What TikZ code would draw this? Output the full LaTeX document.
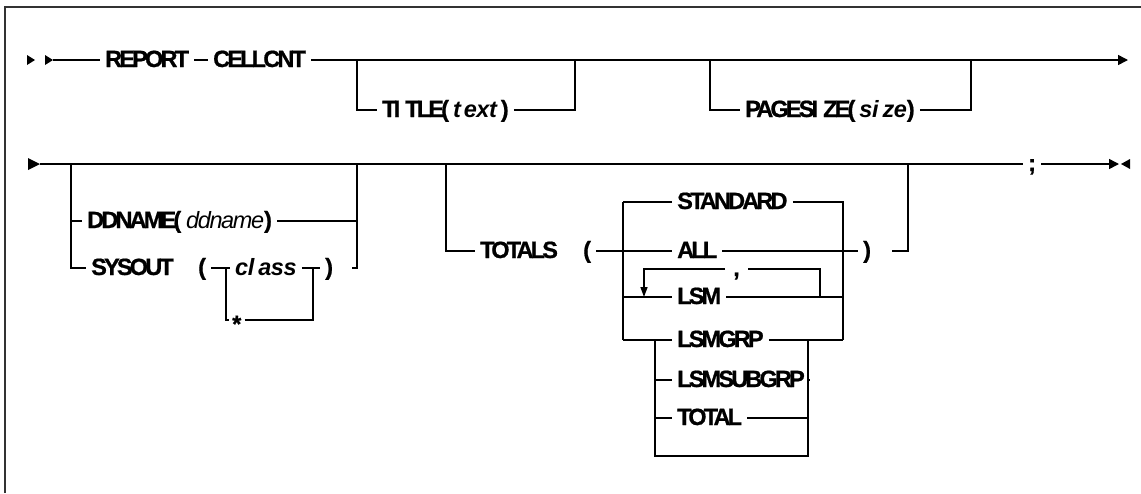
\documentclass[tikz,border=0pt]{standalone}
\usepackage{fontspec}
\setmainfont{Liberation Sans}[LetterSpace=-12, BoldFeatures={FakeBold=0.8}]
\newfontfamily\rrit{Liberation Sans}[LetterSpace=-2]
\newfontfamily\rrdd{Liberation Sans}[LetterSpace=-6]
\usetikzlibrary{arrows.meta}
\tikzset{
  rr/.style={line width=1.5pt, line cap=butt, line join=miter},
  lbl/.style={anchor=west, inner xsep=5pt, inner ysep=0pt, text height=17pt, text depth=3pt,
              font=\fontsize{23.5}{28}\selectfont\bfseries},
  endtip/.style={-{Triangle[length=10pt,width=10pt]}},
  looptip/.style={-{Triangle[length=10pt,width=7pt]}},
  frame/.style={line width=2pt, black!80}
}
\begin{document}
\begin{tikzpicture}[x=1pt,y=-1pt]
\useasboundingbox (0,0) rectangle (1141,493);
% frame
\draw[frame] (5,493) -- (5,7) -- (1141,7);

% ---------- row 1 ----------
\fill (27,55) -- (35,60) -- (27,65) -- cycle;
\fill (45,55) -- (53,60) -- (45,65) -- cycle;
\coordinate (s1) at (53,60);
\node[lbl] (rep) at (100,60) {REPORT};
\node[lbl] (cell) at (208,60) {CELLCNT};
\coordinate (e1) at (1128,60);
\draw[rr] (s1) -- (rep.west);
\draw[rr] (rep.east) -- (cell.west);
\draw[rr,endtip] (cell.east) -- (e1);

% TITLE
\coordinate (t1) at (357,60);
\coordinate (t2) at (357,110);
\coordinate (t3) at (575,110);
\coordinate (t4) at (575,60);
\node[lbl] (title) at (377,110) {TI\kern5pt TLE(\kern4pt{\rrit\itshape t\kern3pt ext}\kern4pt)};
\draw[rr] (t1) -- (t2) -- (title.west);
\draw[rr] (title.east) -- (t3) -- (t4);

% PAGESIZE
\coordinate (u1) at (710,60);
\coordinate (u2) at (710,110);
\coordinate (u3) at (971,110);
\coordinate (u4) at (971,60);
\node[lbl] (page) at (740,110) {PAGESI\kern5pt ZE(\kern4pt{\rrit\itshape si\kern4pt ze})};
\draw[rr] (u1) -- (u2) -- (page.west);
\draw[rr] (page.east) -- (u3) -- (u4);

% ---------- row 2 ----------
\fill (28,158) -- (40,164) -- (28,170) -- cycle;
\coordinate (s2) at (40,164);
\node[lbl] (semi) at (1023,164) {;};
\coordinate (e2) at (1119,164);
\draw[rr] (s2) -- (semi.west);
\draw[rr,endtip] (semi.east) -- (e2);
\fill (1121,164) -- (1130,159) -- (1130,169) -- cycle;

% DDNAME / SYSOUT group
\coordinate (a1) at (71,164);
\coordinate (a2) at (71,221);
\coordinate (a3) at (71,268);
\coordinate (b1) at (357,164);
\coordinate (b2) at (357,221);
\coordinate (b3) at (357,268);
\coordinate (b4) at (352,268);
\node[lbl] (dd) at (82,221) {DDNAME(\kern5pt{\rrdd\mdseries\itshape ddname})};
\node[lbl] (sys) at (86,268) {SYSOUT};
\node[lbl] (lp1) at (193,268) {(};
\node[lbl] (cls) at (230,268) {{\rrit\itshape cl\kern4pt ass}};
\node[lbl] (rp1) at (320,268) {)};
\node[lbl,inner xsep=3pt] (star) at (229,320) {\raisebox{-5pt}{*}};
\coordinate (c1) at (226,268);
\coordinate (c2) at (226,320);
\coordinate (d1) at (313,268);
\coordinate (d2) at (313,320);
\draw[rr] (a1) -- (a3) -- (sys.west);
\draw[rr] (a2) -- (dd.west);
\draw[rr] (dd.east) -- (b2);
\draw[rr] (b1) -- (b3) -- (b4);
\draw[rr] (lp1.east) -- (cls.west);
\draw[rr] (cls.east) -- (rp1.west);
\draw[rr] (c1) -- (c2) -- (star.west);
\draw[rr] (star.east) -- (d2) -- (d1);

% TOTALS group
\coordinate (g1) at (446,164);
\coordinate (g2) at (446,251);
\node[lbl] (tot) at (475,251) {TOTALS};
\node[lbl] (lp2) at (578,251) {(};
\coordinate (h1) at (623,202);
\coordinate (h3) at (623,297);
\coordinate (h4) at (623,340);
\node[lbl] (std) at (672,202) {STANDARD};
\node[lbl] (all) at (672,251) {ALL};
\node[lbl] (lsm) at (672,297) {LSM};
\node[lbl] (grp) at (672,340) {LSMGRP};
\coordinate (k1) at (843,202);
\coordinate (k3) at (843,297);
\coordinate (k4) at (843,340);
\node[lbl] (rp2) at (858,251) {)};
\coordinate (m1) at (892,251);
\coordinate (m2) at (908,251);
\coordinate (m3) at (908,164);
\draw[rr] (g1) -- (g2) -- (tot.west);
\draw[rr] (lp2.east) -- (all.west);
\draw[rr] (h1) -- (h4);
\draw[rr] (h1) -- (std.west);
\draw[rr] (std.east) -- (k1) -- (k4);
\draw[rr] (all.east) -- (rp2.west);
\draw[rr] (h3) -- (lsm.west);
\draw[rr] (lsm.east) -- (k3);
\draw[rr] (h4) -- (grp.west);
\draw[rr] (grp.east) -- (k4);
\draw[rr] (m1) -- (m2) -- (m3);

% repeat loop over LSM
\coordinate (r1) at (820,297);
\coordinate (r2) at (820,269);
\coordinate (r3) at (644,269);
\coordinate (r4) at (644,297);
\node[lbl,inner xsep=8pt] (comma) at (725,269) {,};
\draw[rr] (r1) -- (r2) -- (comma.east);
\draw[rr,looptip] (comma.west) -- (r3) -- (r4);

% sub-box
\coordinate (n1) at (655,340);
\coordinate (n2) at (655,380);
\coordinate (n3) at (655,418);
\coordinate (n4) at (655,456);
\coordinate (p1) at (808,340);
\coordinate (p2) at (808,380);
\coordinate (p3) at (808,418);
\coordinate (p4) at (808,456);
\node[lbl] (sub) at (672,380) {LSMSUBGRP};
\node[lbl] (total) at (672,418) {TOTAL};
\draw[rr] (n1) -- (n4) -- (p4) -- (p1);
\draw[rr] (n2) -- (sub.west);
\draw[rr] (sub.east) -- (p2);
\draw[rr] (n3) -- (total.west);
\draw[rr] (total.east) -- (p3);
\end{tikzpicture}
\end{document}
